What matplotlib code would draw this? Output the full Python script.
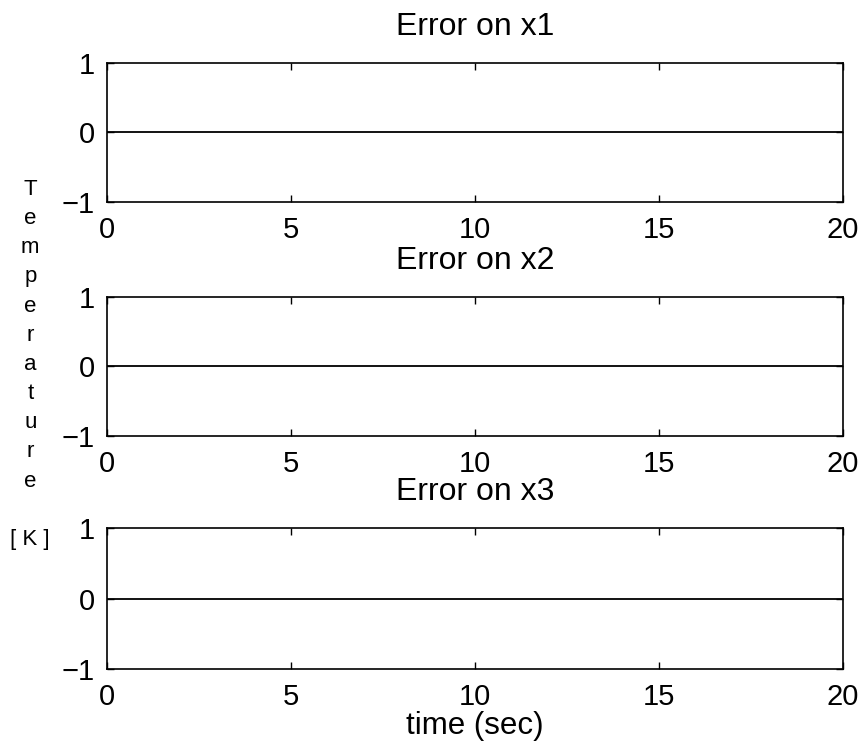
import matplotlib
matplotlib.use("Agg")
import matplotlib.pyplot as plt

plt.rcParams["font.family"] = ["Liberation Sans", "DejaVu Sans"]

# simulation time and estimation error for each state
time_sec = [0, 5, 10, 15, 20]
error_x1 = [0, 0, 0, 0, 0]
error_x2 = [0, 0, 0, 0, 0]
error_x3 = [0, 0, 0, 0, 0]
titles = ["Error on x1", "Error on x2", "Error on x3"]
x_ticks = [0, 5, 10, 15, 20]
y_ticks = [-1, 0, 1]

fig = plt.figure(figsize=(8.65, 7.54), dpi=100)

# axes boxes: left, bottom, width, height
boxes = [
    [0.1237, 0.7321, 0.8509, 0.1844],
    [0.1237, 0.4218, 0.8509, 0.1844],
    [0.1237, 0.1127, 0.8509, 0.1870],
]

for box, err, title in zip(boxes, [error_x1, error_x2, error_x3], titles):
    ax = fig.add_axes(box)
    ax.plot(time_sec, err, color="black", linewidth=1.3)
    ax.set_xlim(0, 20)
    ax.set_ylim(-1, 1)
    ax.set_xticks(x_ticks)
    ax.set_yticks(y_ticks)
    ax.set_yticklabels(["\u22121", "0", "1"])
    ax.tick_params(direction="in", length=5, width=1.0, top=True, right=True,
                   labelsize=21, color="black")
    ax.tick_params(axis="x", pad=10)
    ax.tick_params(axis="y", pad=9)
    for spine in ax.spines.values():
        spine.set_linewidth(1.2)
    ax.set_title(title, fontsize=23, pad=20)

ax.set_xlabel("time (sec)", fontsize=22.5, labelpad=0)

# vertical y label written one letter per line
ylabel_lines = list("Temperature") + ["", "[ K ]"]
fig.text(0.035, 1 - 179 / 754, "\n".join(ylabel_lines), fontsize=16,
         ha="center", va="top", multialignment="center", linespacing=1.51)

fig.savefig("out.png", dpi=100)
